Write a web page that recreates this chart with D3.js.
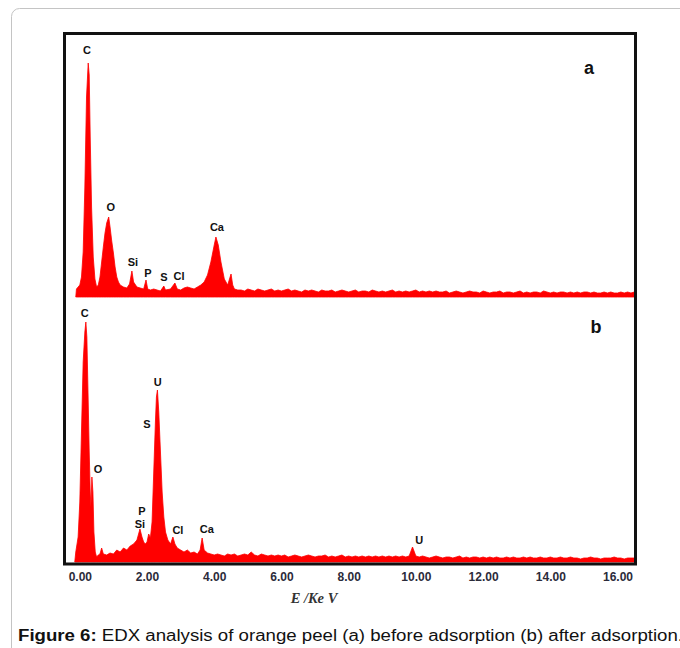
<!DOCTYPE html>
<html>
<head>
<meta charset="utf-8">
<script src="https://cdn.jsdelivr.net/npm/d3@7"></script>
<style>
  body { margin: 0; background: #fff; }
  svg { display: block; }
</style>
</head>
<body>
<script>
// spectrum (a) before adsorption: [energy keV, counts]
const peaksA = [
  [-0.12, 0], [-0.1, 8], [0.0, 12], [0.05, 20], [0.1, 45], [0.15, 110], [0.2, 200],
  [0.25, 234], [0.28, 222], [0.31, 160], [0.35, 90], [0.4, 40], [0.45, 18], [0.5, 10],
  [0.55, 12], [0.6, 20], [0.65, 35], [0.7, 50], [0.75, 64], [0.8, 74], [0.86, 80],
  [0.9, 70], [0.95, 56], [1.0, 44], [1.05, 30], [1.1, 20], [1.15, 15], [1.2, 12],
  [1.3, 10], [1.4, 9], [1.48, 13], [1.55, 26], [1.6, 15], [1.7, 10], [1.8, 9], [1.9, 8],
  [1.97, 17], [2.02, 8], [2.1, 7], [2.2, 8], [2.3, 7], [2.4, 6], [2.5, 11], [2.55, 7],
  [2.7, 8], [2.83, 14], [2.9, 8], [3.0, 7], [3.1, 9], [3.2, 10], [3.3, 9], [3.4, 8],
  [3.5, 10], [3.6, 12], [3.7, 15], [3.8, 22], [3.9, 35], [4.0, 52], [4.05, 60],
  [4.12, 52], [4.2, 35], [4.3, 18], [4.4, 12], [4.5, 23], [4.55, 12], [4.6, 8], [4.7, 7]
];
const tailStartA = 4.8;
const tailA = [
  7, 6, 8, 7, 6, 8, 7, 6, 7, 8, 6, 7, 6, 7, 8, 6, 7, 6, 5, 7,
  6, 7, 6, 5, 7, 6, 6, 7, 5, 6, 7, 6, 5, 6, 7, 5, 6, 6, 5, 7,
  6, 5, 6, 5, 6, 7, 5, 6, 5, 6, 5, 6, 7, 5, 6, 5, 6, 5, 6, 5,
  5, 6, 4, 5, 6, 5, 4, 5, 6, 5, 5, 4, 6, 5, 4, 5, 5, 6, 4, 5,
  5, 4, 5, 6, 4, 5, 4, 5, 5, 4, 6, 5, 4, 5, 4, 5, 5, 4, 5, 4,
  5, 4, 5, 5, 4, 5, 4, 4, 5, 4, 5, 4, 4, 5, 4, 5, 4, 5
];

// spectrum (b) after adsorption
const peaksB = [
  [-0.15, 0], [-0.12, 10], [-0.05, 25], [0.0, 60], [0.05, 130], [0.1, 200], [0.15, 230],
  [0.18, 240], [0.21, 225], [0.25, 160], [0.28, 110], [0.31, 70], [0.33, 55], [0.36, 85],
  [0.39, 70], [0.42, 30], [0.46, 10], [0.5, 5], [0.55, 7], [0.6, 8], [0.65, 14], [0.7, 8],
  [0.8, 7], [0.9, 9], [1.0, 8], [1.1, 12], [1.2, 10], [1.3, 14], [1.4, 12], [1.5, 16],
  [1.6, 18], [1.7, 22], [1.79, 33], [1.85, 25], [1.9, 20], [1.95, 18], [2.0, 20],
  [2.05, 28], [2.1, 24], [2.15, 40], [2.2, 90], [2.25, 140], [2.28, 165], [2.31, 172],
  [2.35, 150], [2.4, 110], [2.45, 70], [2.5, 45], [2.55, 30], [2.62, 22], [2.7, 18],
  [2.77, 25], [2.83, 18], [2.9, 14], [3.0, 12], [3.1, 10], [3.2, 12], [3.3, 9], [3.4, 10],
  [3.5, 8], [3.58, 12], [3.64, 24], [3.7, 12], [3.8, 9], [3.9, 8]
];
const tailStartB = 4.0;
const tailB = [
  7, 8, 7, 6, 8, 7, 8, 6, 7, 8, 7, 10, 7, 6, 8, 7, 6, 7, 6, 7,
  6, 7, 5, 6, 7, 6, 5, 6, 7, 6, 5, 6, 6, 7, 5, 6, 5, 6, 7, 5,
  6, 5, 6, 5, 6, 5, 6, 5, 6, 5, 6, 5, 6, 5, 6, 5, 6, 5, 6, 15,
  6, 5, 6, 5, 4, 5, 6, 5, 4, 5, 5, 4, 5, 6, 4, 5, 4, 5, 5, 4,
  5, 4, 5, 4, 5, 4, 4, 5, 4, 5, 4, 4, 5, 4, 5, 4, 4, 5, 4, 4,
  5, 4, 4, 5, 4, 4, 5, 4, 4, 3, 4, 4, 5, 4, 4, 3, 4, 4, 4, 5,
  4, 4, 3, 4, 4, 4
];

// element labels: [text, energy, counts where the label sits]
const labelsA = [
  ["C", 0.21, 247], ["O", 0.92, 90], ["Si", 1.58, 35], ["P", 2.03, 24],
  ["S", 2.5, 20], ["Cl", 2.95, 21], ["Ca", 4.08, 70]
];
const labelsB = [
  ["C", 0.15, 249], ["U", 2.32, 180], ["S", 2.0, 138], ["O", 0.54, 93],
  ["P", 1.85, 51], ["Si", 1.79, 38], ["Cl", 2.92, 32], ["Ca", 3.78, 33], ["U", 10.1, 22]
];
const panelNames = ["a", "b"];

const xTicks = [0, 2, 4, 6, 8, 10, 12, 14, 16];

function withTail(peaks, start, tail) {
  return peaks.concat(tail.map((c, i) => [+(start + i * 0.1).toFixed(2), c]));
}
const specA = withTail(peaksA, tailStartA, tailA);
const specB = withTail(peaksB, tailStartB, tailB);

const W = 680, H = 648;
const svg = d3.select("body").append("svg").attr("width", W).attr("height", H);

// outer figure box
svg.append("rect")
  .attr("x", 11.5).attr("y", 8.5).attr("width", 700).attr("height", 700)
  .attr("rx", 8).attr("fill", "none").attr("stroke", "#c4c4c4").attr("stroke-width", 1);

const x = d3.scaleLinear().domain([-0.5, 16.55]).range([63, 636]);
const yA = d3.scaleLinear().domain([0, 265]).range([297, 32]);
const yB = d3.scaleLinear().domain([0, 265]).range([562, 297]);

function drawSpectrum(data, y) {
  const area = d3.area()
    .x(d => x(d[0]))
    .y0(y(0))
    .y1(d => y(d[1]));
  const last = data[data.length - 1];
  svg.append("path")
    .datum(data.concat([[last[0], 0]]))
    .attr("d", area)
    .attr("fill", "#ff0000")
    .attr("stroke", "#ff0000")
    .attr("stroke-width", 0.8);
}

drawSpectrum(specA, yA);
drawSpectrum(specB, yB);

function drawLabels(labels, y) {
  svg.append("g").selectAll("text").data(labels).join("text")
    .attr("x", d => x(d[1]))
    .attr("y", d => y(d[2]))
    .attr("text-anchor", "middle")
    .attr("dominant-baseline", "central")
    .attr("font-family", "Liberation Sans, Arial, sans-serif")
    .attr("font-weight", "bold")
    .attr("font-size", 11)
    .attr("fill", "#111")
    .text(d => d[0]);
}
drawLabels(labelsA, yA);
drawLabels(labelsB, yB);

// panel letters
svg.append("g").selectAll("text").data(panelNames).join("text")
  .attr("x", (d, i) => i ? 596 : 589)
  .attr("y", (d, i) => i ? 327 : 68)
  .attr("text-anchor", "middle").attr("dominant-baseline", "central")
  .attr("font-family", "Liberation Sans, Arial, sans-serif")
  .attr("font-weight", "bold").attr("font-size", 18).attr("fill", "#111")
  .text(d => d);

// plot frame
svg.append("rect")
  .attr("x", 64.5).attr("y", 33.5).attr("width", 571).attr("height", 530.5)
  .attr("fill", "none").attr("stroke", "#111").attr("stroke-width", 3);

// x axis
const xAxis = d3.axisBottom(x).tickValues(xTicks).tickFormat(d3.format(".2f")).tickSize(0).tickPadding(7);
const gx = svg.append("g").attr("transform", "translate(0,565)").call(xAxis);
gx.select(".domain").remove();
gx.selectAll("text")
  .attr("font-family", "Liberation Sans, Arial, sans-serif")
  .attr("font-weight", "bold").attr("font-size", 12).attr("fill", "#2b2b3a");

svg.append("text")
  .attr("x", 314).attr("y", 603)
  .attr("text-anchor", "middle")
  .attr("font-family", "Liberation Serif, Times New Roman, serif")
  .attr("font-style", "italic").attr("font-weight", "bold")
  .attr("font-size", 14.5).attr("fill", "#333")
  .text("E /Ke V");

// caption
const cap = svg.append("text")
  .attr("x", 18).attr("y", 641)
  .attr("font-family", "Liberation Sans, Arial, sans-serif")
  .attr("font-size", 16).attr("fill", "#111")
  .attr("textLength", 665).attr("lengthAdjust", "spacingAndGlyphs");
cap.append("tspan").attr("font-weight", "bold").text("Figure 6:");
cap.append("tspan").text(" EDX analysis of orange peel (a) before adsorption (b) after adsorption.");
</script>
</body>
</html>
